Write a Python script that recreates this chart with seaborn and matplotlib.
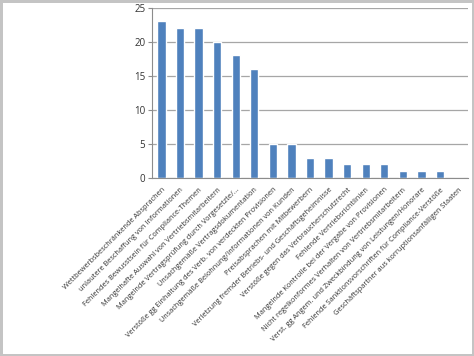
import matplotlib
matplotlib.use("Agg")
import matplotlib.pyplot as plt
import seaborn as sns
import numpy as np
import pandas as pd

# DATA
categories = [
    "Wettbewerbsbeschränkende Absprachen",
    "unlautere Beschaffung von Informationen",
    "Fehlendes Bewusstsein für Compliance-Themen",
    "Mangelhafte Auswahl von Vertriebsmitarbeitern",
    "Mangelnde Vertragsprüfung durch Vorgesetzte/...",
    "Unsachgemäße Vertragsdokumentation",
    "Verstöße gg Einhaltung des Verb. von verdeckten Provisionen",
    "Unsachgemäße Belohnung/Informationen von Kunden",
    "Preisabsprachen mit Mitbewerbern",
    "Verletzung fremder Betriebs- und Geschäftsgeheimnisse",
    "Verstöße gegen das Verbraucherschutzrecht",
    "Fehlende Vertriebsrichtlinien",
    "Mangelnde Kontrolle bei der Vergabe von Provisionen",
    "Nicht regelkonformes Verhalten von Vertriebsmitarbeitern",
    "Verst. gg Angem. und Zweckbindung von Leistungen/Honorare",
    "Fehlende Sanktionsvorschriften für Compliance-Verstöße",
    "Geschäftspartner aus korruptionsanfälligen Staaten",
]
counts = [23, 22, 22, 20, 18, 16, 5, 5, 3, 3, 2, 2, 2, 1, 1, 1, 0]
y_ticks = [0, 5, 10, 15, 20, 25]

df = pd.DataFrame({"cat": categories, "n": counts})

sns.set_style("white")
plt.rcParams['font.family'] = ['Open Sans', 'DejaVu Sans']

fig = plt.figure(figsize=(4.74, 3.56), dpi=100)
fig.patch.set_facecolor("white")
fig.patch.set_edgecolor("#c4c4c4")
fig.patch.set_linewidth(3.5)
ax = fig.add_axes([0.321, 0.5, 0.666, 0.478])

sns.barplot(data=df, x="cat", y="n", color="#4F81BD", saturation=1,
            width=0.45, ax=ax)

ax.set_ylim(0, 25)
ax.set_xlim(-0.5, len(categories) - 0.5)
ax.set_yticks(y_ticks)
ax.set_yticklabels([str(v) for v in y_ticks], fontsize=7, color="#333333")
ax.yaxis.grid(True, color="#a6a6a6", linewidth=0.9)
ax.set_axisbelow(True)
ax.set_xlabel("")
ax.set_ylabel("")

ax.spines["right"].set_visible(False)
ax.spines["top"].set_visible(False)
ax.spines["left"].set_color("#8c8c8c")
ax.spines["bottom"].set_color("#8c8c8c")

# excel-style ticks between categories
ax.set_xticks(np.arange(len(categories) + 1) - 0.5, minor=True)
ax.tick_params(axis="x", which="minor", length=3.5, color="#8c8c8c", direction="out")
ax.tick_params(axis="x", which="major", length=0, pad=6)
ax.tick_params(axis="y", which="major", length=3, color="#8c8c8c", left=True, pad=2)

ax.set_xticks(range(len(categories)))
ax.set_xticklabels(categories, rotation=45, ha="right", va="top",
                   rotation_mode="anchor", fontsize=5.3, color="#333333")

fig.savefig("out.png", dpi=100)
